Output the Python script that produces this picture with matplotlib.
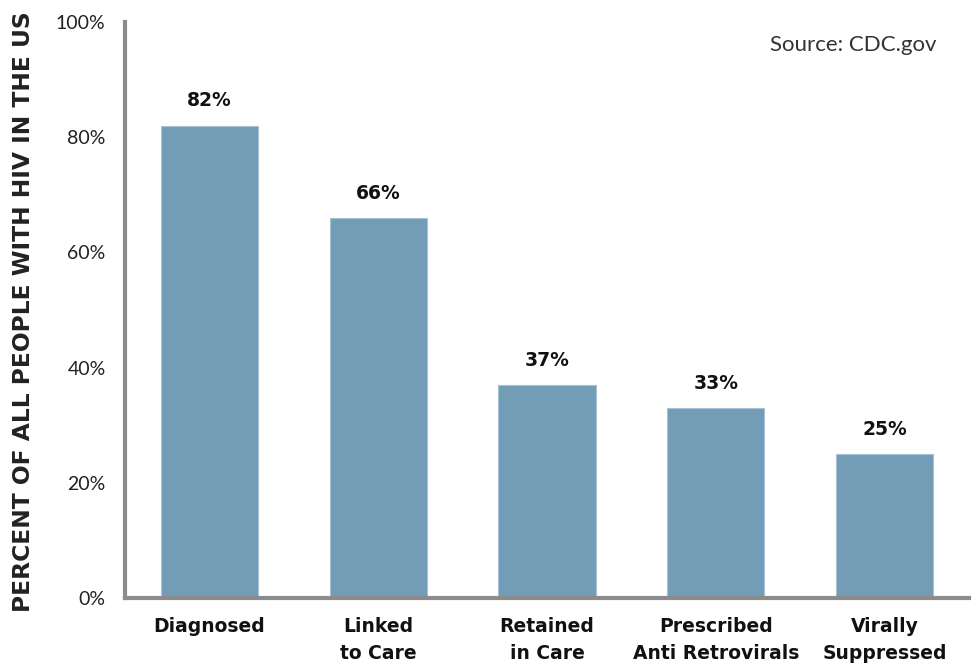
import matplotlib
matplotlib.use("Agg")
import matplotlib.pyplot as plt
from matplotlib.ticker import FuncFormatter

categories = ["Diagnosed", "Linked\nto Care", "Retained\nin Care", "Prescribed\nAnti Retrovirals", "Virally\nSuppressed"]
values = [82, 66, 37, 33, 25]
yticks = [0, 20, 40, 60, 80, 100]

fig = plt.figure(figsize=(9.77, 6.66), dpi=100)
ax = fig.add_axes([125/977, 1 - 598/666, 844/977, 576/666])

x = list(range(len(categories)))
ax.bar(x, values, width=0.575, color="#739cb7", edgecolor="#a8c2d3", linewidth=0.8, zorder=2)
ax.set_xlim(-0.5, 4.5)
ax.set_ylim(0, 100)
ax.set_yticks(yticks)
ax.yaxis.set_major_formatter(FuncFormatter(lambda v, p: f"{int(v)}%"))
ax.set_xticks(x)
ax.set_xticklabels(categories, fontsize=13.5, fontweight="bold", family="DejaVu Sans",
                   linespacing=1.5, color="#111111")
for lab in ax.get_yticklabels():
    lab.set_fontsize(14)
    lab.set_family(["Lato", "DejaVu Sans"])
    lab.set_fontweight("normal")
    lab.set_color("#222222")
ax.tick_params(axis="both", length=0)
ax.tick_params(axis="y", pad=14)
ax.tick_params(axis="x", pad=14)

for s in ["top", "right"]:
    ax.spines[s].set_visible(False)
for s in ["left", "bottom"]:
    ax.spines[s].set_color("#8c8c8c")
    ax.spines[s].set_linewidth(3)

for xi, v in zip(x, values):
    ax.annotate(f"{v}%", (xi, v), xytext=(0, 11), textcoords="offset points",
                ha="center", va="bottom", fontsize=13.5, fontweight="bold",
                family="DejaVu Sans", color="#111111")

ax.set_ylabel("PERCENT OF ALL PEOPLE WITH HIV IN THE US", fontsize=16.8, fontweight="bold",
              family="DejaVu Sans", color="#222222")
ax.yaxis.set_label_coords((35 - 125) / 844, 0.497)

fig.text(937/977, 1 - 45/666, "Source: CDC.gov", ha="right", va="center", fontsize=16,
         family=["Lato", "DejaVu Sans"], fontweight="normal", color="#333333")

fig.savefig("out.png", dpi=100)
